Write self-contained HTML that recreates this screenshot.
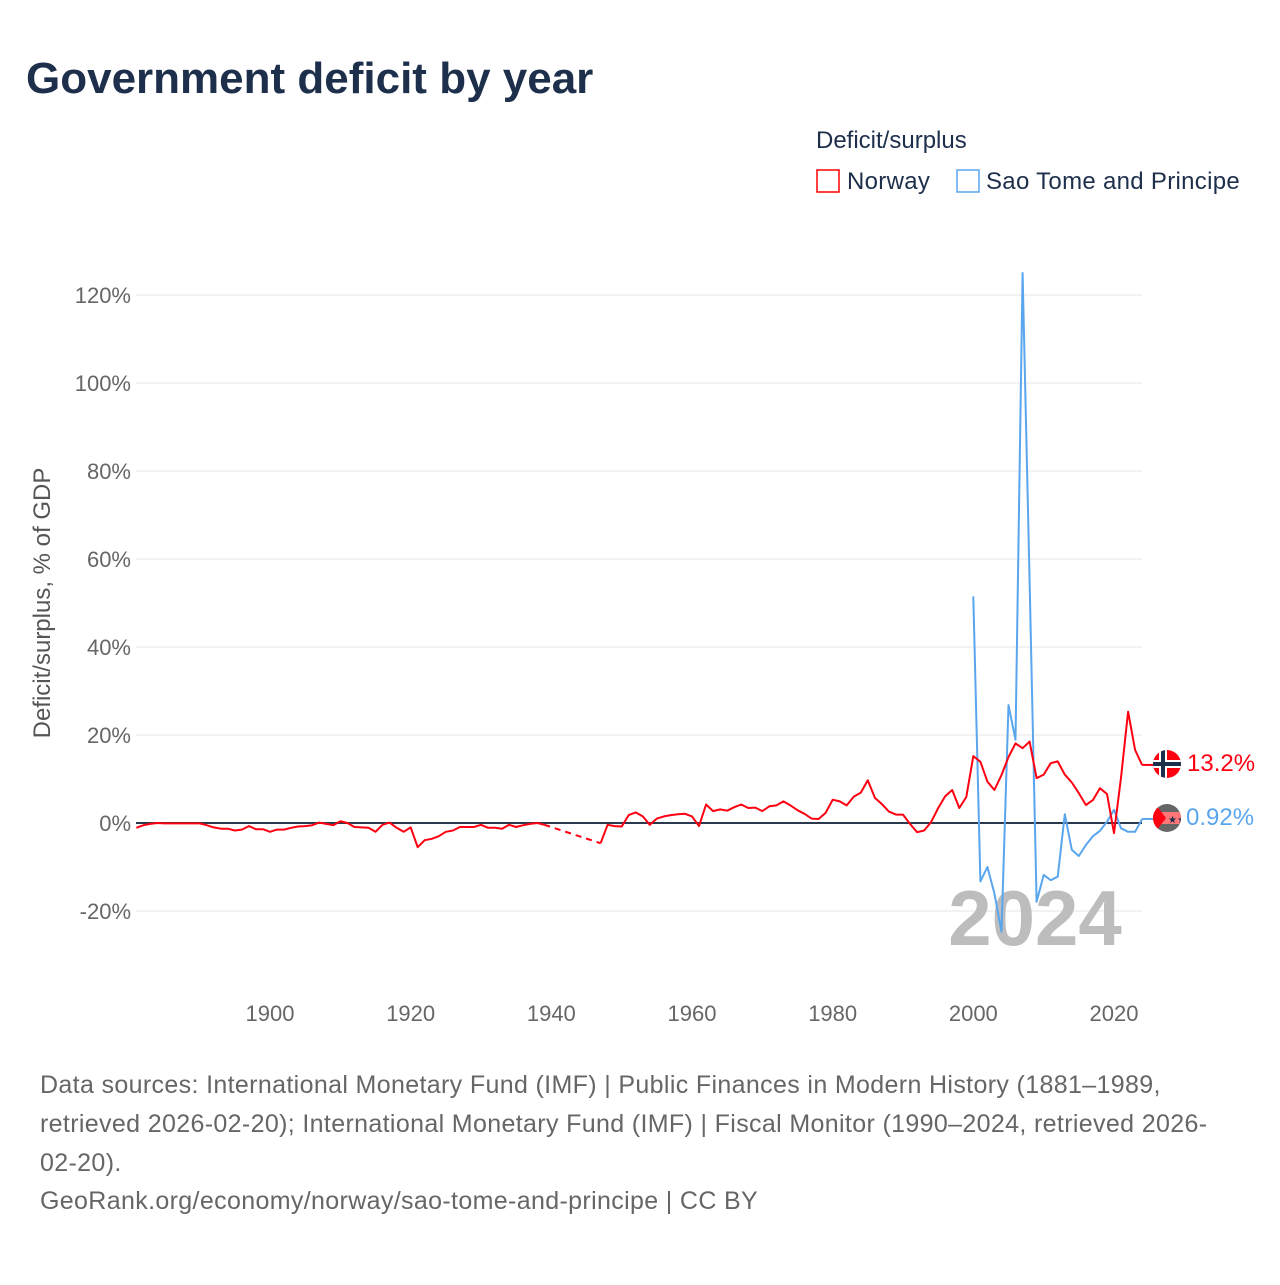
<!DOCTYPE html>
<html><head><meta charset="utf-8"><style>
body{margin:0;background:#fff;width:1280px;height:1280px;overflow:hidden;font-family:"Liberation Sans",sans-serif}
</style></head><body>
<svg width="1280" height="1280" style="font-family:'Liberation Sans',sans-serif">
<text x="26" y="93" font-size="44" font-weight="bold" fill="#1d2f4b">Government deficit by year</text>
<text x="816" y="148" font-size="24" fill="#1d2f4b">Deficit/surplus</text>
<g><rect x="817" y="170" width="22" height="22" fill="none" stroke="#f00" stroke-width="1.5"/><text x="847" y="189" font-size="24" fill="#1d2f4b" letter-spacing="0.3">Norway</text></g>
<g><rect x="957" y="170" width="22" height="22" fill="none" stroke="#5aa6ee" stroke-width="1.5"/><text x="986" y="189" font-size="24" fill="#1d2f4b" letter-spacing="0.3">Sao Tome and Principe</text></g>
<g id="grid"></g><g id="ylabels"></g><g id="xlabels"></g>
<text x="1035" y="945" font-size="78" font-weight="bold" fill="#bdbdbd" text-anchor="middle">2024</text>
<g id="series"></g>
<text transform="translate(50,603) rotate(-90)" font-size="24" fill="#555" text-anchor="middle">Deficit/surplus, % of GDP</text>
<g><clipPath id="c1"><circle cx="1167" cy="764" r="14"/></clipPath><g clip-path="url(#c1)"><rect x="1150" y="747" width="34" height="34" fill="#f01"/><rect x="1150" y="760" width="34" height="8" fill="#fff"/><rect x="1159" y="747" width="8" height="34" fill="#fff"/><rect x="1150" y="762" width="34" height="4" fill="#1d2f4b"/><rect x="1161" y="747" width="4" height="34" fill="#1d2f4b"/></g></g>
<g><clipPath id="c2"><circle cx="1167" cy="818" r="14"/></clipPath><g clip-path="url(#c2)"><rect x="1150" y="801" width="34" height="34" fill="#666"/><rect x="1150" y="812" width="34" height="12" fill="#f77"/><polygon points="1153,801 1166,818 1153,835" fill="#f01"/><text x="1168" y="823" font-size="10" fill="#1d2f4b">★★</text></g></g>
<text x="1187" y="771" font-size="24" fill="#f01">13.2%</text>
<text x="1186" y="825" font-size="24" fill="#5aa6ee">0.92%</text>
<g font-size="25" fill="#666" letter-spacing="0.35">
<text x="40" y="1093">Data sources: International Monetary Fund (IMF) | Public Finances in Modern History (1881–1989,</text>
<text x="40" y="1132">retrieved 2026-02-20); International Monetary Fund (IMF) | Fiscal Monitor (1990–2024, retrieved 2026-</text>
<text x="40" y="1171">02-20).</text>
<text x="40" y="1209">GeoRank.org/economy/norway/sao-tome-and-principe | CC BY</text>
</g>
</svg>
<script>
const yTicks=[-20,0,20,40,60,80,100,120];
const xTicks=[1900,1920,1940,1960,1980,2000,2020];
const norwayYears1=[1881,1882,1883,1884,1885,1886,1887,1888,1889,1890,1891,1892,1893,1894,1895,1896,1897,1898,1899,1900,1901,1902,1903,1904,1905,1906,1907,1908,1909,1910,1911,1912,1913,1914,1915,1916,1917,1918,1919,1920,1921,1922,1923,1924,1925,1926,1927,1928,1929,1930,1931,1932,1933,1934,1935,1936,1937,1938,1939];
const norwayVals1=[-1.1,-0.5,-0.2,0,-0.1,-0.1,-0.1,-0.1,-0.1,-0.1,-0.5,-1,-1.3,-1.3,-1.7,-1.5,-0.7,-1.4,-1.4,-2,-1.5,-1.5,-1.1,-0.8,-0.7,-0.5,0.1,-0.2,-0.5,0.4,0,-0.9,-1,-1.1,-2,-0.4,0.1,-1.1,-2,-1,-5.5,-3.9,-3.6,-3,-2,-1.7,-0.9,-0.9,-0.9,-0.4,-1.1,-1.1,-1.3,-0.4,-0.9,-0.5,-0.2,0,-0.4];
const norwayYears2=[1947,1948,1949,1950,1951,1952,1953,1954,1955,1956,1957,1958,1959,1960,1961,1962,1963,1964,1965,1966,1967,1968,1969,1970,1971,1972,1973,1974,1975,1976,1977,1978,1979,1980,1981,1982,1983,1984,1985,1986,1987,1988,1989,1990,1991,1992,1993,1994,1995,1996,1997,1998,1999,2000,2001,2002,2003,2004,2005,2006,2007,2008,2009,2010,2011,2012,2013,2014,2015,2016,2017,2018,2019,2020,2021,2022,2023,2024];
const norwayVals2=[-4.6,-0.4,-0.7,-0.8,1.8,2.4,1.5,-0.4,1,1.5,1.8,2,2.1,1.5,-0.7,4.2,2.7,3.1,2.8,3.6,4.2,3.4,3.5,2.7,3.8,4,4.9,4,2.9,2.1,1,0.9,2.3,5.3,4.9,4,6,6.9,9.7,5.7,4.3,2.6,1.9,1.9,-0.2,-2.1,-1.7,0.2,3.4,6.1,7.5,3.4,5.9,15.2,13.9,9.4,7.5,10.9,15,18.1,17,18.5,10.2,11,13.6,14,11,9.2,6.8,4.1,5.2,7.9,6.6,-2.3,10.3,25.3,16.6,13.2];
const stpYears=[2000,2001,2002,2003,2004,2005,2006,2007,2008,2009,2010,2011,2012,2013,2014,2015,2016,2017,2018,2019,2020,2021,2022,2023,2024];
const stpVals=[51.5,-13.3,-10,-16,-24.7,26.8,18.9,125,55,-17.9,-11.8,-13,-12.2,2,-6.1,-7.5,-5,-3,-1.8,0.3,3,-1.2,-2,-2,0.92];
const X=y=>270+(y-1900)*(844/120);
const Y=v=>823-v*4.4;
const NS='http://www.w3.org/2000/svg';
function mk(tag,attrs,parent){const e=document.createElementNS(NS,tag);for(const k in attrs)e.setAttribute(k,attrs[k]);parent.appendChild(e);return e;}
const grid=document.getElementById('grid'),yl=document.getElementById('ylabels'),xl=document.getElementById('xlabels'),ser=document.getElementById('series');
yTicks.forEach(t=>{
 const l=mk('line',{x1:136,x2:1142,y1:Y(t),y2:Y(t),stroke:'#e6e6e6','stroke-width':1},grid);
 
 
 const tx=mk('text',{x:131,y:Y(t)+8,'font-size':22,fill:'#666','text-anchor':'end'},yl);
 tx.textContent=t+'%';
 
 
});
xTicks.forEach(t=>{
 const tx=mk('text',{x:X(t),y:1021,'font-size':22,fill:'#666','text-anchor':'middle'},xl);
 tx.textContent=t;
 
 
});
const z=mk('line',{x1:136,x2:1142,y1:Y(0),y2:Y(0),stroke:'#2b3a4f','stroke-width':2},grid);


const pts=(ys,vs)=>ys.map((y,i)=>X(y).toFixed(1)+','+Y(vs[i]).toFixed(1)).join(' ');
const s1=mk('polyline',{points:pts(stpYears,stpVals),fill:'none',stroke:'#5aa6ee','stroke-width':2,'stroke-linejoin':'round'},ser);


const ext=mk('line',{x1:X(2024),y1:Y(stpVals[stpVals.length-1]),x2:1153,y2:Y(stpVals[stpVals.length-1]),stroke:'#5aa6ee','stroke-width':2},ser);


const n1=mk('polyline',{points:pts(norwayYears1,norwayVals1),fill:'none',stroke:'#f01','stroke-width':2,'stroke-linejoin':'round'},ser);


const gap=mk('line',{x1:X(norwayYears1[norwayYears1.length-1]),y1:Y(norwayVals1[norwayVals1.length-1]),x2:X(norwayYears2[0]),y2:Y(norwayVals2[0]),stroke:'#f01','stroke-width':2,'stroke-dasharray':'6,5'},ser);


const n2=mk('polyline',{points:pts(norwayYears2,norwayVals2),fill:'none',stroke:'#f01','stroke-width':2,'stroke-linejoin':'round'},ser);


const ext2=mk('line',{x1:X(2024),y1:Y(norwayVals2[norwayVals2.length-1]),x2:1153,y2:Y(norwayVals2[norwayVals2.length-1]),stroke:'#f01','stroke-width':2},ser);


</script>
</body></html>
